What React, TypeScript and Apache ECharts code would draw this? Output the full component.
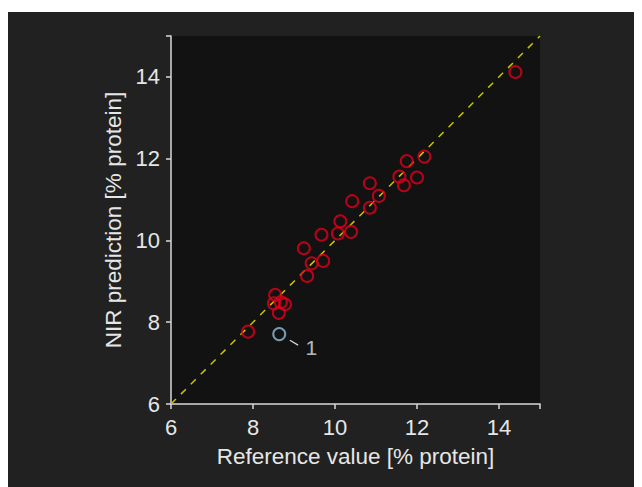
import React, { useEffect, useRef } from "react";
import * as echarts from "echarts";

const refX = [14.4, 12.18, 11.75, 11.57, 12.0, 11.68, 10.85, 11.07, 10.85, 10.42, 10.13, 10.07, 10.39, 9.67, 9.24, 9.43, 9.71, 9.32, 8.54, 8.51, 8.68, 8.78, 8.63, 7.88];
const predY = [14.12, 12.05, 11.94, 11.56, 11.54, 11.35, 11.4, 11.09, 10.8, 10.96, 10.47, 10.17, 10.21, 10.14, 9.81, 9.44, 9.5, 9.13, 8.67, 8.46, 8.49, 8.44, 8.23, 7.77];
const outlierX = [8.64];
const outlierY = [7.71];
const outlierLabels = ["1"];
const leaderX = [8.9, 9.1];
const leaderY = [7.56, 7.44];
const diagX = [6, 15];
const diagY = [6, 15];
const tickValues = [6, 8, 10, 12, 14];

export default function App() {
  const ref = useRef<HTMLDivElement>(null);
  useEffect(() => {
    const chart = echarts.init(ref.current!, null, { renderer: "svg" });
    const font = "'Liberation Sans', Arial, sans-serif";
    const axisCommon = {
      min: 6,
      max: 15,
      interval: 2,
      nameLocation: "middle" as const,
      nameTextStyle: { color: "#e6e6e6", fontSize: 22.5, fontFamily: font },
      axisLine: { show: true, lineStyle: { color: "#d8d8d8", width: 1.5 } },
      axisTick: { show: true, inside: false, length: 5, lineStyle: { color: "#d8d8d8", width: 1.5 } },
      splitLine: { show: false },
      axisLabel: {
        color: "#e6e6e6",
        fontSize: 22,
        fontFamily: font,
        formatter: (v: number) => (tickValues.includes(v) ? String(v) : ""),
      },
    };
    chart.setOption({
      animation: false,
      backgroundColor: "#212121",
      grid: {
        left: 163,
        top: 24,
        right: 102,
        bottom: 83,
        show: true,
        backgroundColor: "#121212",
        borderWidth: 0,
      },
      xAxis: {
        ...axisCommon,
        type: "value",
        name: "Reference value [% protein]",
        nameGap: 41,
        axisLabel: { ...axisCommon.axisLabel, margin: 12 },
      },
      yAxis: {
        ...axisCommon,
        type: "value",
        name: "NIR prediction [% protein]",
        nameGap: 43,
        axisLabel: { ...axisCommon.axisLabel, margin: 11 },
      },
      series: [
        {
          type: "line",
          data: diagX.map((x, i) => [x, diagY[i]]),
          showSymbol: false,
          symbol: "none",
          lineStyle: { color: "#c8c400", width: 1.5, type: [7, 7] },
          silent: true,
          z: 1,
        },
        {
          type: "line",
          data: leaderX.map((x, i) => [x, leaderY[i]]),
          showSymbol: false,
          symbol: "none",
          lineStyle: { color: "#d8d8d8", width: 1.2 },
          silent: true,
          z: 1,
        },
        {
          type: "scatter",
          data: refX.map((x, i) => [x, predY[i]]),
          symbol: "circle",
          symbolSize: 12,
          itemStyle: { color: "rgba(0,0,0,0)", borderColor: "#e0001c", borderWidth: 2 },
          z: 3,
        },
        {
          type: "scatter",
          data: outlierX.map((x, i) => [x, outlierY[i]]),
          symbol: "circle",
          symbolSize: 12,
          itemStyle: { color: "rgba(0,0,0,0)", borderColor: "#8ec0d8", borderWidth: 2 },
          label: {
            show: true,
            formatter: (p: any) => outlierLabels[p.dataIndex],
            position: "inside",
            offset: [32, 13],
            color: "#e6e6e6",
            fontSize: 21,
            fontFamily: font,
          },
          z: 3,
        },
      ],
    });
    return () => chart.dispose();
  }, []);
  return (
    <div
      ref={ref}
      style={{ width: 634, height: 475, marginTop: 4 }}
    />
  );
}
